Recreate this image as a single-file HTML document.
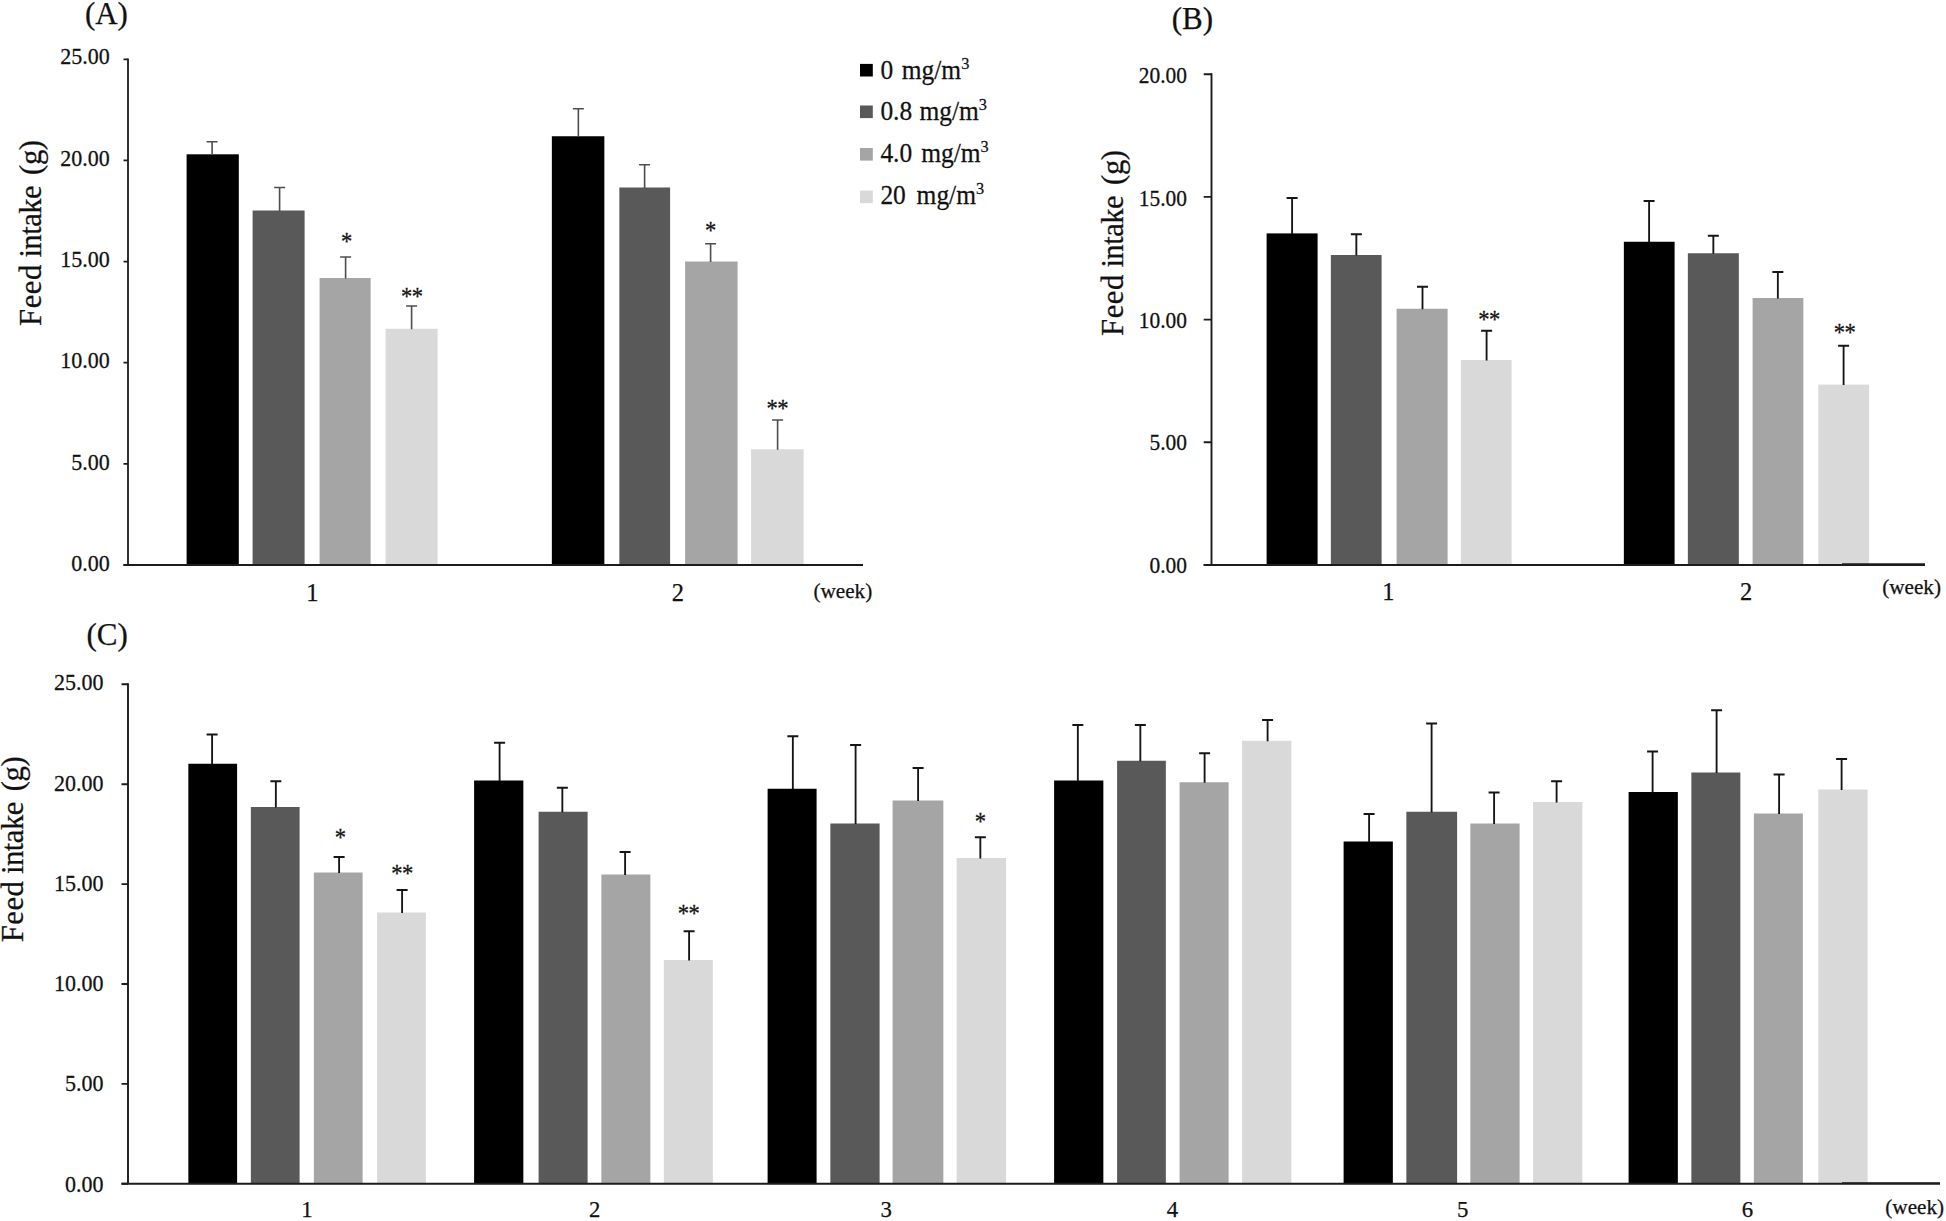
<!DOCTYPE html>
<html lang="en"><head><meta charset="utf-8"><title>Feed intake</title>
<style>html,body{margin:0;padding:0;background:#fff}body{width:1946px;height:1221px;overflow:hidden}svg{display:block}text{font-family:'Liberation Serif', 'DejaVu Serif', serif;fill:#111;stroke:#111;stroke-width:.25px}</style>
</head><body>
<svg width="1946" height="1221" viewBox="0 0 1946 1221">
<rect width="1946" height="1221" fill="#fff"/>
<g id="panelA">
<g transform="translate(-0.4 0)">
<rect x="187" y="154.3" width="52.2" height="410.7" fill="#000000"/>
<rect x="253" y="210.5" width="52" height="354.5" fill="#595959"/>
<rect x="320" y="278" width="51" height="287" fill="#a5a5a5"/>
<rect x="386" y="328.75" width="52" height="236.25" fill="#d9d9d9"/>
<rect x="552.25" y="136.25" width="52.5" height="428.75" fill="#000000"/>
<rect x="619.75" y="187.5" width="50.75" height="377.5" fill="#595959"/>
<rect x="685.5" y="261.5" width="52.5" height="303.5" fill="#a5a5a5"/>
<rect x="751.5" y="449.25" width="52.5" height="115.75" fill="#d9d9d9"/>
<path d="M212.5 154.8V141.75M207 141.75H218" stroke="#4d4d4d" stroke-width="1.6" fill="none"/>
<path d="M280 211V187.5M274.5 187.5H285.5" stroke="#4d4d4d" stroke-width="1.6" fill="none"/>
<path d="M346 278.5V257M340.5 257H351.5" stroke="#4d4d4d" stroke-width="1.6" fill="none"/>
<path d="M412 329.25V306M406.5 306H417.5" stroke="#4d4d4d" stroke-width="1.6" fill="none"/>
<path d="M578.75 136.75V108.75M573.25 108.75H584.25" stroke="#4d4d4d" stroke-width="1.6" fill="none"/>
<path d="M645 188V164.75M639.5 164.75H650.5" stroke="#4d4d4d" stroke-width="1.6" fill="none"/>
<path d="M711 262V243.75M705.5 243.75H716.5" stroke="#4d4d4d" stroke-width="1.6" fill="none"/>
<path d="M778 449.75V420M772.5 420H783.5" stroke="#4d4d4d" stroke-width="1.6" fill="none"/>
</g>
<path d="M128 58.4V565.9M123.5 565H863" stroke="#1c1c1c" stroke-width="1.8" fill="none"/>
<path d="M123.5 59.3H128M123.5 160.44H128M123.5 261.58H128M123.5 362.72H128M123.5 463.86H128M123.5 565H128" stroke="#1c1c1c" stroke-width="1.8" fill="none"/>
<text transform="matrix(1 0 0 1.04 109.7 64.3)" font-size="22" text-anchor="end">25.00</text>
<text transform="matrix(1 0 0 1.04 109.7 165.64)" font-size="22" text-anchor="end">20.00</text>
<text transform="matrix(1 0 0 1.04 109.7 266.98)" font-size="22" text-anchor="end">15.00</text>
<text transform="matrix(1 0 0 1.04 109.7 368.32)" font-size="22" text-anchor="end">10.00</text>
<text transform="matrix(1 0 0 1.04 109.7 469.66)" font-size="22" text-anchor="end">5.00</text>
<text transform="matrix(1 0 0 1.04 109.7 571)" font-size="22" text-anchor="end">0.00</text>
<text transform="matrix(1 0 0 1 84.9 24)" font-size="31" text-anchor="start">(A)</text>
<text transform="matrix(1 0 0 1 312.4 601)" font-size="24.5" text-anchor="middle">1</text>
<text transform="matrix(1 0 0 1 677.75 601)" font-size="24.5" text-anchor="middle">2</text>
<text transform="matrix(1 0 0 1 813.4 597.6)" font-size="21.2" text-anchor="start">(week)</text>
<text transform="matrix(1 0 0 1.14 346.4 250.2)" font-size="22.6" text-anchor="middle" letter-spacing="-0.5" stroke-width="0.5">*</text>
<text transform="matrix(1 0 0 1.14 411.75 304.6)" font-size="22.6" text-anchor="middle" letter-spacing="-0.5" stroke-width="0.5">**</text>
<text transform="matrix(1 0 0 1.14 710.3 238.6)" font-size="22.6" text-anchor="middle" letter-spacing="-0.5" stroke-width="0.5">*</text>
<text transform="matrix(1 0 0 1.14 777.35 416.6)" font-size="22.6" text-anchor="middle" letter-spacing="-0.5" stroke-width="0.5">**</text>
<text transform="translate(41.2 325.9) rotate(-90)" font-size="30.7" stroke="#111" stroke-width="0.55"><tspan letter-spacing="0.5">Feed</tspan> <tspan x="68.3" letter-spacing="-0.55">intake</tspan> <tspan x="151" letter-spacing="-0.4">(g)</tspan></text>
<rect x="860" y="63.9" width="12.8" height="12.6" fill="#000000"/>
<text transform="matrix(0.96 0 0 1 880.4 78.5)" font-size="26.5" word-spacing="2.4">0 mg/m<tspan dy="-10" font-size="17">3</tspan></text>
<rect x="860" y="105.5" width="12.8" height="12.6" fill="#595959"/>
<text transform="matrix(0.96 0 0 1 880.4 119.6)" font-size="26.5" word-spacing="1">0.8 mg/m<tspan dy="-10" font-size="17">3</tspan></text>
<rect x="860" y="148" width="12.8" height="12.6" fill="#a5a5a5"/>
<text transform="matrix(0.96 0 0 1 880.4 162.3)" font-size="26.5" word-spacing="2.8">4.0 mg/m<tspan dy="-10" font-size="17">3</tspan></text>
<rect x="860" y="190.6" width="12.8" height="12.6" fill="#d9d9d9"/>
<text transform="matrix(0.96 0 0 1 880.4 203.6)" font-size="26.5" word-spacing="4.6">20 mg/m<tspan dy="-10" font-size="17">3</tspan></text>
</g>
<g id="panelB">
<g transform="translate(-0.4 0)">
<rect x="1267" y="233.4" width="51" height="331.6" fill="#000000"/>
<rect x="1331.25" y="255" width="50.75" height="310" fill="#595959"/>
<rect x="1397" y="308.75" width="51" height="256.25" fill="#a5a5a5"/>
<rect x="1461.25" y="360" width="50.75" height="205" fill="#d9d9d9"/>
<rect x="1624.25" y="241.75" width="50.75" height="323.25" fill="#000000"/>
<rect x="1688.25" y="253.25" width="51" height="311.75" fill="#595959"/>
<rect x="1753" y="298" width="50.75" height="267" fill="#a5a5a5"/>
<rect x="1818.75" y="384.6" width="50.75" height="180.4" fill="#d9d9d9"/>
<path d="M1292.5 233.9V198M1287 198H1298" stroke="#151515" stroke-width="1.85" fill="none"/>
<path d="M1356.75 255.5V234.25M1351.25 234.25H1362.25" stroke="#151515" stroke-width="1.85" fill="none"/>
<path d="M1422.9 309.25V286.75M1417.4 286.75H1428.4" stroke="#151515" stroke-width="1.85" fill="none"/>
<path d="M1487 360.5V330.75M1481.5 330.75H1492.5" stroke="#151515" stroke-width="1.85" fill="none"/>
<path d="M1649.5 242.25V201M1644 201H1655" stroke="#151515" stroke-width="1.85" fill="none"/>
<path d="M1713.75 253.75V235.75M1708.25 235.75H1719.25" stroke="#151515" stroke-width="1.85" fill="none"/>
<path d="M1778.25 298.5V272M1772.75 272H1783.75" stroke="#151515" stroke-width="1.85" fill="none"/>
<path d="M1844 385.1V345.75M1838.5 345.75H1849.5" stroke="#151515" stroke-width="1.85" fill="none"/>
</g>
<path d="M1211.5 73.25V565.95M1203.7 565H1925" stroke="#1c1c1c" stroke-width="1.9" fill="none"/>
<path d="M1842 564.3H1925" stroke="#1c1c1c" stroke-width="1.9" fill="none"/>
<path d="M1203.7 74.2H1211.5M1203.7 196.9H1211.5M1203.7 319.6H1211.5M1203.7 442.3H1211.5M1203.7 565H1211.5" stroke="#1c1c1c" stroke-width="1.9" fill="none"/>
<text transform="matrix(1 0 0 1.04 1186.9 83.1)" font-size="21.4" text-anchor="end">20.00</text>
<text transform="matrix(1 0 0 1.04 1186.9 205.5)" font-size="21.4" text-anchor="end">15.00</text>
<text transform="matrix(1 0 0 1.04 1186.9 327.9)" font-size="21.4" text-anchor="end">10.00</text>
<text transform="matrix(1 0 0 1.04 1186.9 450.3)" font-size="21.4" text-anchor="end">5.00</text>
<text transform="matrix(1 0 0 1.04 1186.9 572.7)" font-size="21.4" text-anchor="end">0.00</text>
<text transform="matrix(1 0 0 1 1171.7 29)" font-size="31" text-anchor="start">(B)</text>
<text transform="matrix(1 0 0 1 1388.4 599.7)" font-size="24.5" text-anchor="middle">1</text>
<text transform="matrix(1 0 0 1 1746 599.7)" font-size="24.5" text-anchor="middle">2</text>
<text transform="matrix(1 0 0 1 1882.2 593.7)" font-size="21.2" text-anchor="start">(week)</text>
<text transform="matrix(1 0 0 1.14 1488.95 327.6)" font-size="22.6" text-anchor="middle" letter-spacing="-0.5" stroke-width="0.5">**</text>
<text transform="matrix(1 0 0 1.14 1844.55 340.6)" font-size="22.6" text-anchor="middle" letter-spacing="-0.5" stroke-width="0.5">**</text>
<text transform="translate(1122.6 335.9) rotate(-90)" font-size="30.7" stroke="#111" stroke-width="0.55"><tspan letter-spacing="0.5">Feed</tspan> <tspan x="68.3" letter-spacing="-0.55">intake</tspan> <tspan x="151" letter-spacing="-0.4">(g)</tspan></text>
</g>
<g id="panelC">
<g transform="translate(-0.4 0)">
<rect x="188.75" y="763.75" width="48.75" height="420.05" fill="#000000"/>
<rect x="251.25" y="807" width="48.75" height="376.8" fill="#595959"/>
<rect x="314.25" y="872.5" width="48.75" height="311.3" fill="#a5a5a5"/>
<rect x="377.5" y="912.5" width="48.75" height="271.3" fill="#d9d9d9"/>
<rect x="474.5" y="780.5" width="49.25" height="403.3" fill="#000000"/>
<rect x="539" y="811.75" width="49" height="372.05" fill="#595959"/>
<rect x="601.75" y="874.5" width="49" height="309.3" fill="#a5a5a5"/>
<rect x="664.25" y="960" width="49" height="223.8" fill="#d9d9d9"/>
<rect x="768" y="788.75" width="49" height="395.05" fill="#000000"/>
<rect x="830.75" y="823.5" width="49.25" height="360.3" fill="#595959"/>
<rect x="893" y="800.5" width="50.75" height="383.3" fill="#a5a5a5"/>
<rect x="957" y="858" width="49.5" height="325.8" fill="#d9d9d9"/>
<rect x="1054.5" y="780.5" width="49.25" height="403.3" fill="#000000"/>
<rect x="1117.5" y="760.75" width="48.75" height="423.05" fill="#595959"/>
<rect x="1180" y="782.25" width="49" height="401.55" fill="#a5a5a5"/>
<rect x="1242.5" y="740.75" width="49.25" height="443.05" fill="#d9d9d9"/>
<rect x="1344" y="841.5" width="49.25" height="342.3" fill="#000000"/>
<rect x="1406.75" y="811.75" width="50.75" height="372.05" fill="#595959"/>
<rect x="1470.75" y="823.5" width="49.25" height="360.3" fill="#a5a5a5"/>
<rect x="1533.5" y="802" width="49.25" height="381.8" fill="#d9d9d9"/>
<rect x="1629" y="792" width="49.25" height="391.8" fill="#000000"/>
<rect x="1691.75" y="772.5" width="49" height="411.3" fill="#595959"/>
<rect x="1754.25" y="813.5" width="49" height="370.3" fill="#a5a5a5"/>
<rect x="1818.75" y="789.5" width="49.25" height="394.3" fill="#d9d9d9"/>
<path d="M212.5 764.25V734.5M207 734.5H218" stroke="#151515" stroke-width="1.85" fill="none"/>
<path d="M276.25 807.5V781.25M270.75 781.25H281.75" stroke="#151515" stroke-width="1.85" fill="none"/>
<path d="M339.5 873V857M334 857H345" stroke="#151515" stroke-width="1.85" fill="none"/>
<path d="M402.5 913V890M397 890H408" stroke="#151515" stroke-width="1.85" fill="none"/>
<path d="M500 781V742.75M494.5 742.75H505.5" stroke="#151515" stroke-width="1.85" fill="none"/>
<path d="M562.75 812.25V787.75M557.25 787.75H568.25" stroke="#151515" stroke-width="1.85" fill="none"/>
<path d="M625.5 875V852M620 852H631" stroke="#151515" stroke-width="1.85" fill="none"/>
<path d="M689.5 960.5V931.25M684 931.25H695" stroke="#151515" stroke-width="1.85" fill="none"/>
<path d="M793.25 789.25V736.25M787.75 736.25H798.75" stroke="#151515" stroke-width="1.85" fill="none"/>
<path d="M856 824V745M850.5 745H861.5" stroke="#151515" stroke-width="1.85" fill="none"/>
<path d="M918.5 801V768M913 768H924" stroke="#151515" stroke-width="1.85" fill="none"/>
<path d="M980.75 858.5V837.25M975.25 837.25H986.25" stroke="#151515" stroke-width="1.85" fill="none"/>
<path d="M1078.25 781V725M1072.75 725H1083.75" stroke="#151515" stroke-width="1.85" fill="none"/>
<path d="M1140.75 761.25V725M1135.25 725H1146.25" stroke="#151515" stroke-width="1.85" fill="none"/>
<path d="M1205 782.75V753.25M1199.5 753.25H1210.5" stroke="#151515" stroke-width="1.85" fill="none"/>
<path d="M1268 741.25V720M1262.5 720H1273.5" stroke="#151515" stroke-width="1.85" fill="none"/>
<path d="M1369.5 842V814M1364 814H1375" stroke="#151515" stroke-width="1.85" fill="none"/>
<path d="M1432 812.25V723.5M1426.5 723.5H1437.5" stroke="#151515" stroke-width="1.85" fill="none"/>
<path d="M1494.5 824V792.5M1489 792.5H1500" stroke="#151515" stroke-width="1.85" fill="none"/>
<path d="M1557 802.5V781.25M1551.5 781.25H1562.5" stroke="#151515" stroke-width="1.85" fill="none"/>
<path d="M1653 792.5V751.5M1647.5 751.5H1658.5" stroke="#151515" stroke-width="1.85" fill="none"/>
<path d="M1717 773V710.25M1711.5 710.25H1722.5" stroke="#151515" stroke-width="1.85" fill="none"/>
<path d="M1779.5 814V774.5M1774 774.5H1785" stroke="#151515" stroke-width="1.85" fill="none"/>
<path d="M1842 790V759M1836.5 759H1847.5" stroke="#151515" stroke-width="1.85" fill="none"/>
</g>
<path d="M128 683.35V1184.75M121.5 1183.8H1940" stroke="#1c1c1c" stroke-width="1.9" fill="none"/>
<path d="M1842 1183.1H1940" stroke="#1c1c1c" stroke-width="1.9" fill="none"/>
<path d="M121.5 684.3H128M121.5 784.2H128M121.5 884.1H128M121.5 984H128M121.5 1083.9H128M121.5 1183.8H128" stroke="#1c1c1c" stroke-width="1.9" fill="none"/>
<text transform="matrix(1 0 0 1.04 103.5 690.3)" font-size="22" text-anchor="end">25.00</text>
<text transform="matrix(1 0 0 1.04 103.5 790.54)" font-size="22" text-anchor="end">20.00</text>
<text transform="matrix(1 0 0 1.04 103.5 890.78)" font-size="22" text-anchor="end">15.00</text>
<text transform="matrix(1 0 0 1.04 103.5 991.02)" font-size="22" text-anchor="end">10.00</text>
<text transform="matrix(1 0 0 1.04 103.5 1091.26)" font-size="22" text-anchor="end">5.00</text>
<text transform="matrix(1 0 0 1.04 103.5 1191.5)" font-size="22" text-anchor="end">0.00</text>
<text transform="matrix(1 0 0 1 86.4 645.3)" font-size="31" text-anchor="start">(C)</text>
<text transform="matrix(1 0 0 1 307 1217.2)" font-size="22.8" text-anchor="middle">1</text>
<text transform="matrix(1 0 0 1 594.8 1217.2)" font-size="22.8" text-anchor="middle">2</text>
<text transform="matrix(1 0 0 1 886.1 1217.2)" font-size="22.8" text-anchor="middle">3</text>
<text transform="matrix(1 0 0 1 1172.4 1217.2)" font-size="22.8" text-anchor="middle">4</text>
<text transform="matrix(1 0 0 1 1462.7 1217.2)" font-size="22.8" text-anchor="middle">5</text>
<text transform="matrix(1 0 0 1 1747.5 1217.2)" font-size="22.8" text-anchor="middle">6</text>
<text transform="matrix(1 0 0 1 1885.3 1213.8)" font-size="21.2" text-anchor="start">(week)</text>
<text transform="matrix(1 0 0 1.14 340.1 845.6)" font-size="22.6" text-anchor="middle" letter-spacing="-0.5" stroke-width="0.5">*</text>
<text transform="matrix(1 0 0 1.14 402.05 881.6)" font-size="22.6" text-anchor="middle" letter-spacing="-0.5" stroke-width="0.5">**</text>
<text transform="matrix(1 0 0 1.14 688.55 921.6)" font-size="22.6" text-anchor="middle" letter-spacing="-0.5" stroke-width="0.5">**</text>
<text transform="matrix(1 0 0 1.14 980.1 830.4)" font-size="22.6" text-anchor="middle" letter-spacing="-0.5" stroke-width="0.5">*</text>
<text transform="translate(23.1 942.2) rotate(-90)" font-size="30.7" stroke="#111" stroke-width="0.55"><tspan letter-spacing="0.5">Feed</tspan> <tspan x="68.3" letter-spacing="-0.55">intake</tspan> <tspan x="151" letter-spacing="-0.4">(g)</tspan></text>
</g>
</svg>
</body></html>
